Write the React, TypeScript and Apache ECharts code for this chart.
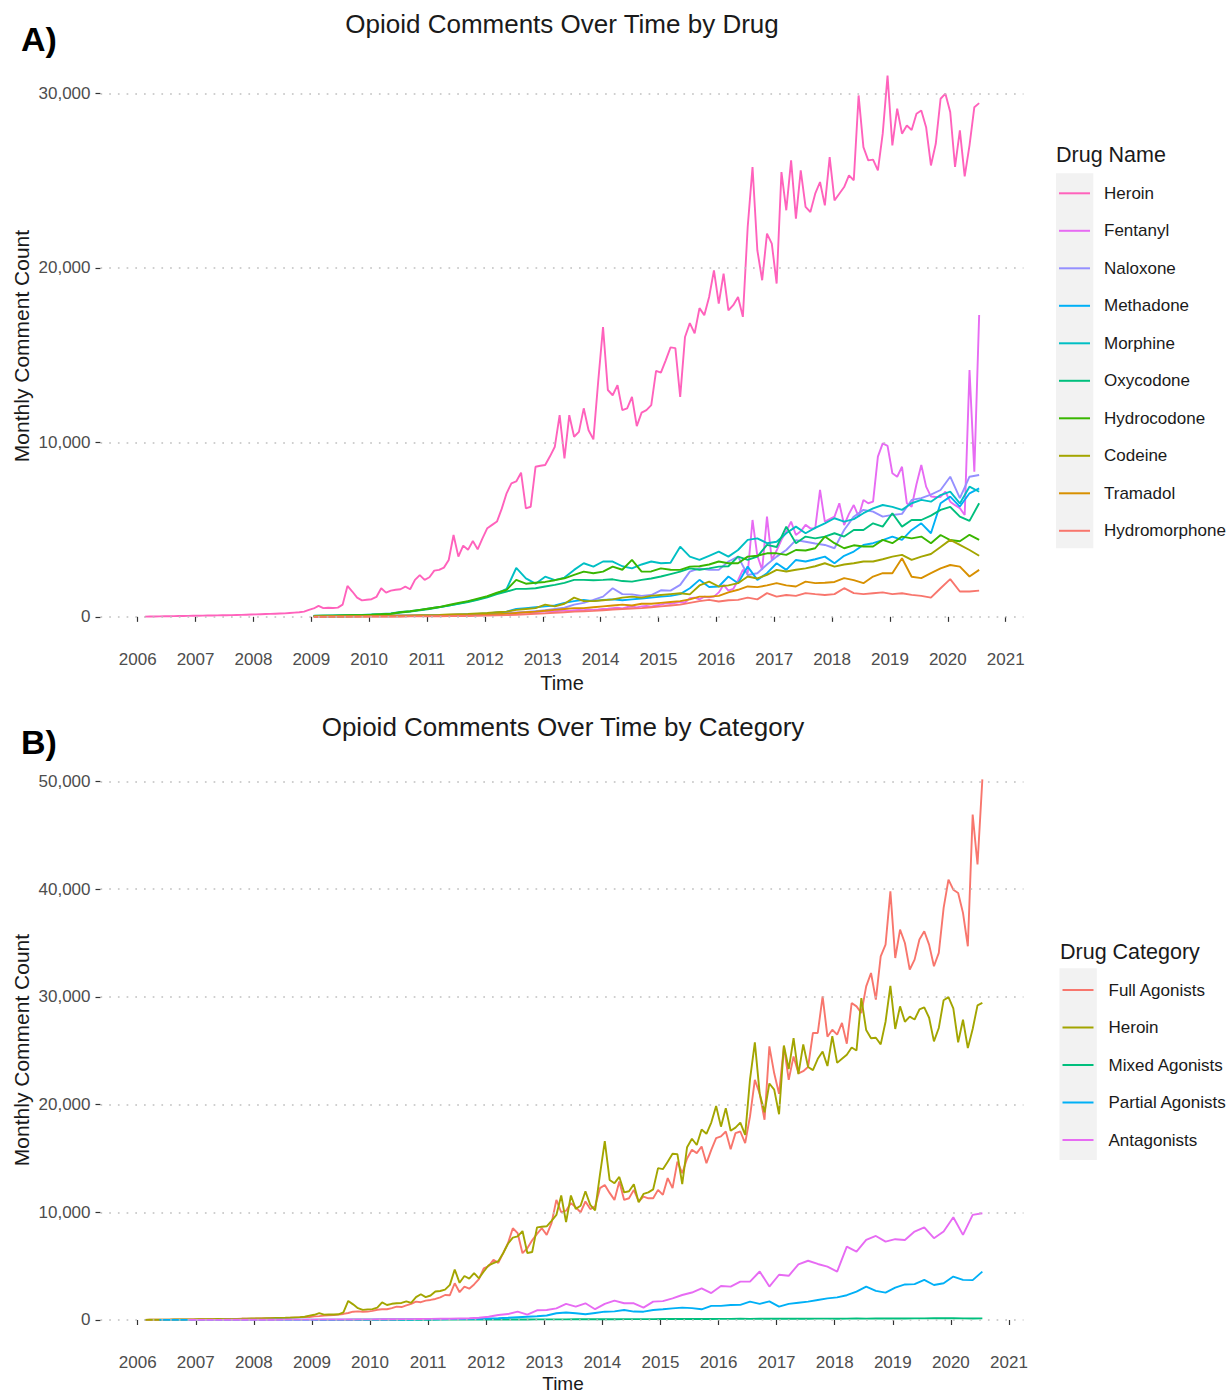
import React, { useEffect, useRef } from 'react';
import * as echarts from 'echarts';

// ---------------- tick labels ----------------
const YEAR_TICKS = [2006, 2007, 2008, 2009, 2010, 2011, 2012, 2013, 2014, 2015, 2016, 2017, 2018, 2019, 2020, 2021];
const A_Y_TICKS = [0, 10000, 20000, 30000];
const B_Y_TICKS = [0, 10000, 20000, 30000, 40000, 50000];

// ---------------- categories ----------------
const DRUG_NAMES = ['Heroin', 'Fentanyl', 'Naloxone', 'Methadone', 'Morphine', 'Oxycodone', 'Hydrocodone', 'Codeine', 'Tramadol', 'Hydromorphone'];
const DRUG_COLORS = ['#FF62BC', '#E76BF3', '#9590FF', '#00B0F6', '#00BFC4', '#00BF7D', '#39B600', '#A3A500', '#D89000', '#F8766D'];
const CATEGORY_NAMES = ['Full Agonists', 'Heroin', 'Mixed Agonists', 'Partial Agonists', 'Antagonists'];
const CATEGORY_COLORS = ['#F8766D', '#A3A500', '#00BF7D', '#00B0F6', '#E76BF3'];

// ---------------- series values ----------------
// Monthly counts, Feb 2006 .. Jul 2020 (month index 1..174, Jan 2006 = 0)
const HEROIN = [
  10, 15, 20, 25, 30, 35, 40, 45, 50, 55, 60,
  65, 70, 75, 80, 85, 90, 95, 100, 105, 110, 120, 130,
  140, 150, 160, 170, 180, 190, 200, 220, 240, 260, 300, 400,
  480, 630, 500, 520, 510, 530, 700, 1770, 1450, 1100, 940, 980,
  1010, 1140, 1640, 1390, 1500, 1550, 1580, 1730, 1580, 2120, 2390, 2120,
  2270, 2650, 2690, 2820, 3260, 4690, 3450, 4080, 3840, 4350, 3870, 4500,
  5080, 5270, 5460, 6200, 7080, 7650, 7760, 8260, 6220, 6310, 8600, 8660,
  8700, 9200, 9750, 11560, 9080, 11560, 10320, 10600, 11950, 10690, 10170, 13500,
  16600, 13000, 12700, 13280, 11850, 11950, 12610, 10930, 11700, 11850, 12130, 14100,
  14000, 14700, 15440, 15400, 12610, 16040, 16830, 16250, 17690, 17290, 18330, 19860,
  17950, 19670, 17570, 17860, 18330, 17190, 22340, 25780, 21010, 19290, 21960, 21390,
  19100, 25490, 23300, 26160, 22820, 25590, 23490, 23200, 24250, 24920, 23580, 26350,
  23870, 24250, 24630, 25300, 25020, 29880, 26920, 26160, 26200, 25590, 27690, 31020,
  27020, 29120, 27690, 28160, 27900, 28830, 29020, 28060, 25870, 27110, 29690, 29980,
  28930, 25780, 27880, 25240, 27020, 29210, 29440,
];

// Monthly, Jan 2009 .. Jul 2020 (month index 36..174)
const FENTANYL = [
  35, 40, 40, 40, 45, 45, 50, 50, 55, 55, 60, 60,
  60, 65, 65, 70, 70, 75, 75, 80, 80, 85, 90, 90,
  95, 100, 105, 110, 115, 120, 125, 130, 140, 150, 160, 170,
  180, 190, 200, 210, 220, 230, 240, 250, 260, 270, 280, 290,
  300, 310, 320, 340, 360, 340, 380, 400, 380, 420, 400, 420,
  450, 470, 500, 520, 480, 560, 590, 540, 600, 620, 580, 650,
  700, 770, 740, 800, 850, 820, 1070, 1100, 1000, 1150, 1120, 1160,
  1400, 1830, 1500, 1600, 2100, 2690, 2500, 5550, 3500, 2690, 5740, 3260,
  3800, 4410, 4900, 5460, 4690, 4900, 5270, 5070, 5070, 7270, 5460, 5600,
  5740, 6510, 5260, 5900, 6410, 5740, 6700, 6510, 6600, 9180, 9940, 9800,
  8230, 8030, 8600, 6510, 6310, 7600, 8700, 7460, 6900, 6870, 6870, 7170,
  6600, 6400, 6230, 5840, 14140, 8320, 17300,
];

// Every second month (Jan, Mar, May, Jul, Sep, Nov), Jan 2009 .. Jul 2020
const NALOXONE = [
  14, 16, 18, 20, 22, 25,
  28, 32, 36, 40, 45, 50,
  60, 70, 80, 90, 100, 120,
  140, 170, 200, 240, 280, 330,
  380, 450, 520, 700, 800, 970,
  1160, 1640, 1300, 1290, 1200, 1250,
  1520, 1500, 1830, 2590, 2780, 2690,
  2690, 3170, 3450, 2400, 2500, 3000,
  3450, 3830, 4400, 4300, 4200, 4120,
  3930, 4980, 5740, 6130, 6030, 5740,
  5840, 5900, 6700, 6800, 7000, 7270,
  8030, 6800, 8030, 8130,
];
const METHADONE = [
  30, 30, 35, 35, 40, 40,
  45, 50, 55, 60, 65, 70,
  80, 90, 100, 120, 140, 160,
  200, 250, 300, 450, 500, 550,
  600, 650, 800, 900, 970, 900,
  970, 1000, 950, 1000, 1050, 1100,
  1160, 1200, 1300, 1640, 2120, 1710,
  1740, 2310, 1930, 2880, 2120, 2500,
  3070, 2690, 3260, 3170, 3300, 3450,
  3070, 3500, 3740, 4120, 4220, 4400,
  4600, 4410, 4980, 5360, 4790, 6510,
  6890, 6320, 7080, 7360,
];
const MORPHINE = [
  60, 70, 80, 90, 100, 110,
  130, 160, 200, 280, 320, 400,
  480, 560, 650, 760, 880, 1000,
  1160, 1350, 1600, 2800, 2200, 1900,
  2300, 2100, 2250, 2690, 3070, 2880,
  3170, 3170, 2900, 2780, 3000, 3170,
  3070, 3100, 4020, 3450, 3260, 3500,
  3740, 3450, 3830, 4410, 4500, 4220,
  4300, 4790, 5170, 4790, 5100, 5360,
  5650, 5460, 5600, 5940, 6220, 6410,
  6300, 6130, 6510, 6700, 6600, 6980,
  7170, 6500, 7460, 7170,
];
const OXYCODONE = [
  50, 60, 70, 80, 90, 100,
  120, 140, 170, 250, 300, 380,
  450, 540, 640, 750, 850, 980,
  1120, 1300, 1450, 1600, 1600, 1640,
  1740, 1830, 1950, 2120, 2120, 2100,
  2120, 2150, 2050, 2020, 2120, 2200,
  2310, 2450, 2590, 2780, 2700, 2780,
  2880, 2900, 3450, 3260, 3450, 4120,
  4000, 5170, 4220, 4600, 4500, 4600,
  4790, 4600, 4980, 4980, 5360, 5170,
  5940, 5170, 5550, 5550, 5800, 6130,
  6300, 5740, 5500, 6510,
];
const HYDROCODONE = [
  50, 60, 70, 80, 90, 100,
  120, 150, 180, 260, 320, 400,
  480, 560, 680, 800, 900, 1040,
  1180, 1380, 1550, 2120, 1900, 1950,
  2000, 2100, 2210, 2400, 2590, 2500,
  2590, 2880, 2700, 3260, 2590, 2600,
  2780, 2700, 2690, 2880, 2900, 3000,
  3170, 3070, 3070, 3450, 3500, 3640,
  3640, 3550, 3830, 3800, 3930, 4600,
  4220, 3930, 4100, 4030, 4030, 4410,
  4220, 4600, 4500, 4600, 4220, 4690,
  4400, 4330, 4700, 4410,
];
const CODEINE = [
  25, 28, 32, 36, 40, 45,
  50, 55, 60, 70, 80, 90,
  100, 110, 130, 150, 170, 200,
  220, 260, 300, 400, 450, 500,
  700, 600, 750, 1100, 900, 900,
  950, 1000, 1100, 1160, 1100, 1200,
  1250, 1300, 1350, 1290, 1800, 2020,
  1740, 1800, 1930, 2310, 2200, 2400,
  2690, 2600, 2700, 2780, 2900, 3070,
  2880, 3000, 3070, 3170, 3170, 3300,
  3450, 3550, 3260, 3450, 3600, 4000,
  4410, 4120, 3830, 3500,
];
const TRAMADOL = [
  12, 14, 16, 18, 20, 22,
  25, 28, 32, 36, 40, 45,
  50, 60, 70, 80, 90, 100,
  120, 150, 180, 220, 260, 300,
  350, 400, 450, 500, 500, 550,
  600, 650, 700, 650, 750, 750,
  800, 850, 900, 1000, 1160, 1160,
  1200, 1400, 1550, 1740, 1700, 1800,
  1930, 1800, 1740, 2020, 1930, 1950,
  2000, 2220, 2100, 1930, 2310, 2500,
  2500, 3360, 2300, 2220, 2500, 2780,
  2970, 2880, 2310, 2690,
];
const HYDROMORPHONE = [
  8, 9, 10, 11, 12, 14,
  16, 18, 20, 22, 25, 28,
  30, 35, 40, 45, 50, 60,
  70, 85, 100, 120, 150, 180,
  200, 230, 260, 300, 320, 340,
  380, 420, 450, 480, 500, 550,
  600, 650, 700, 800, 900, 970,
  880, 950, 970, 1100, 1000, 1360,
  1160, 1250, 1200, 1360, 1300, 1250,
  1300, 1640, 1360, 1300, 1350, 1400,
  1300, 1350, 1260, 1200, 1100, 1640,
  2160, 1450, 1450, 1500,
];

// Panel B, monthly, Feb 2006 .. Jul 2020 (month index 1..174)
const FULL_AGONISTS = [
  10, 15, 20, 25, 30, 35, 40, 45, 50, 55, 60,
  65, 70, 75, 80, 85, 90, 95, 100, 105, 110, 115, 120,
  130, 140, 150, 160, 170, 180, 190, 200, 220, 240, 260, 280,
  330, 360, 400, 430, 460, 500, 560, 650, 770, 800, 760, 780,
  850, 950, 1000, 1000, 1100, 1240, 1200, 1350, 1500, 1700, 1650, 1800,
  1860, 1950, 2100, 2320, 2300, 3410, 2580, 3100, 2900, 3300, 3800, 4800,
  5000, 5580, 5300, 6200, 7130, 8520, 8060, 6200, 6660, 7400, 8000, 8520,
  7900, 8990, 11150, 10000, 10150, 10850, 10460, 10000, 11000, 10300, 10540, 12240,
  12540, 11800, 11150, 12860, 11150, 11300, 12080, 11000, 11460, 11300, 11300, 12080,
  11620, 13170, 12240, 14710, 13630, 15000, 15800, 15490, 16110, 14560, 15800, 16880,
  17050, 17500, 15860, 17350, 17500, 16420, 18900, 22300, 21000, 18590, 25400, 22900,
  21000, 25400, 22300, 24470, 22900, 23100, 23500, 26650, 26650, 30050, 26300, 26950,
  26500, 27580, 25650, 29430, 29120, 28500, 30980, 32220, 29740, 33770, 34850, 39800,
  33610, 36250, 35000, 32530, 33460, 35320, 36090, 34850, 32840, 34080, 38260, 40890,
  39950, 39650, 37800, 34700, 46930, 42290, 50190,
];
// Every second month, Jan 2009 .. Jul 2020
const MIXED_AGONISTS = [
  10, 10, 12, 12, 14, 14,
  15, 16, 18, 20, 22, 24,
  26, 28, 30, 32, 35, 38,
  40, 42, 45, 48, 50, 52,
  55, 58, 60, 62, 65, 68,
  70, 72, 75, 78, 80, 82,
  85, 88, 90, 95, 100, 95,
  100, 105, 110, 105, 110, 115,
  110, 115, 120, 118, 122, 125,
  120, 125, 130, 128, 135, 140,
  138, 142, 145, 150, 155, 160,
  170, 150, 140, 150,
];
// Every second month, May 2006 .. Jul 2020
const PARTIAL_AGONISTS = [
  5, 5, 5, 6,
  6, 7, 8, 9, 10, 10,
  12, 12, 14, 15, 16, 18,
  20, 22, 25, 28, 30, 32,
  35, 38, 40, 45, 50, 55,
  60, 70, 80, 90, 100, 120,
  140, 160, 200, 250, 300, 350,
  420, 620, 700, 620, 530, 650,
  770, 800, 930, 780, 770, 930,
  1000, 1080, 1150, 1100, 990, 1310,
  1310, 1390, 1400, 1700, 1490, 1730,
  1240, 1490, 1600, 1700, 1860, 2010,
  2100, 2300, 2630, 3100, 2700, 2540,
  3000, 3300, 3330, 3720, 3250, 3410,
  4030, 3720, 3700, 4490,
];
// Every second month, Nov 2006 .. Jul 2020
const ANTAGONISTS = [
  5,
  8, 10, 12, 14, 16, 18,
  20, 22, 25, 28, 30, 32,
  35, 38, 40, 45, 50, 55,
  60, 65, 70, 75, 80, 90,
  100, 110, 120, 140, 160, 200,
  300, 460, 550, 770, 500, 900,
  930, 1080, 1490, 1240, 1550, 1000,
  1490, 1800, 1550, 1550, 1150, 1700,
  1750, 2010, 2320, 2550, 2940, 2500,
  3160, 3100, 3560, 3560, 4500, 3100,
  4200, 4100, 5170, 5500, 5200, 4950,
  4490, 6810, 6340, 7430, 7800, 7280,
  7500, 7430, 8210, 8600, 7590, 8210,
  9540, 7900, 9760, 9910,
];

// ---------------- helpers ----------------
const FONT = '"Liberation Sans", Arial, Helvetica, sans-serif';

// month index k (Jan 2006 = 0) -> decimal year at mid-month
const toPoints = (startMonth: number, stepMonths: number, values: number[]) =>
  values.map((v, i) => [2006 + (startMonth + i * stepMonths + 0.5) / 12, v]);

const A_DATA = [
  { name: 'Heroin', start: 1, step: 1, values: HEROIN },
  { name: 'Fentanyl', start: 36, step: 1, values: FENTANYL },
  { name: 'Naloxone', start: 36, step: 2, values: NALOXONE },
  { name: 'Methadone', start: 36, step: 2, values: METHADONE },
  { name: 'Morphine', start: 36, step: 2, values: MORPHINE },
  { name: 'Oxycodone', start: 36, step: 2, values: OXYCODONE },
  { name: 'Hydrocodone', start: 36, step: 2, values: HYDROCODONE },
  { name: 'Codeine', start: 36, step: 2, values: CODEINE },
  { name: 'Tramadol', start: 36, step: 2, values: TRAMADOL },
  { name: 'Hydromorphone', start: 36, step: 2, values: HYDROMORPHONE },
];
const B_DATA = [
  { name: 'Full Agonists', start: 1, step: 1, values: FULL_AGONISTS },
  { name: 'Heroin', start: 1, step: 1, values: HEROIN },
  { name: 'Mixed Agonists', start: 36, step: 2, values: MIXED_AGONISTS },
  { name: 'Partial Agonists', start: 4, step: 2, values: PARTIAL_AGONISTS },
  { name: 'Antagonists', start: 10, step: 2, values: ANTAGONISTS },
];

const gridLineStyle = { color: '#c0c0c0', width: 1.7, type: [1.7, 7] as any };

function makeX(gridIndex: number, min: number, max: number) {
  return {
    type: 'value',
    gridIndex,
    min,
    max,
    axisLine: { show: false },
    axisTick: { show: true, length: 5, lineStyle: { color: '#333333', width: 1.2 }, customValues: YEAR_TICKS },
    axisLabel: {
      customValues: YEAR_TICKS,
      formatter: (v: number) => String(Math.round(v)),
      fontSize: 17,
      color: '#4d4d4d',
      fontFamily: FONT,
      margin: 7,
    },
    splitLine: { show: false },
  };
}

function makeY(gridIndex: number, min: number, max: number, ticks: number[]) {
  return {
    type: 'value',
    gridIndex,
    min,
    max,
    axisLine: { show: false },
    axisTick: { show: true, length: 5, lineStyle: { color: '#333333', width: 1.2 }, customValues: ticks },
    axisLabel: {
      customValues: ticks,
      formatter: (v: number) => Math.round(v).toLocaleString('en-US'),
      fontSize: 17,
      color: '#4d4d4d',
      fontFamily: FONT,
      margin: 10,
    },
    splitLine: { show: false },
  };
}

function makeSeries(defs: any[], colors: string[], axisIndex: number, gridTicks: number[]) {
  return defs.map((d, i) => ({
    type: 'line',
    name: d.name,
    xAxisIndex: axisIndex,
    yAxisIndex: axisIndex,
    data: toPoints(d.start, d.step, d.values),
    showSymbol: false,
    symbol: 'none',
    silent: true,
    lineStyle: { color: colors[i], width: 1.9 },
    itemStyle: { color: colors[i] },
    emphasis: { disabled: true },
    ...(i === 0
      ? {
          markLine: {
            silent: true,
            symbol: ['none', 'none'],
            label: { show: false },
            lineStyle: gridLineStyle,
            emphasis: { disabled: true },
            animation: false,
            data: gridTicks.map((v) => ({ yAxis: v })),
          },
        }
      : {}),
  }));
}

function makeLegend(names: string[], colors: string[], left: number, top: number, textPad: number) {
  return {
    orient: 'vertical',
    left,
    top,
    padding: 0,
    itemWidth: 31,
    itemHeight: 2,
    itemGap: 17.5,
    icon: 'rect',
    selectedMode: false,
    textStyle: { fontSize: 17, color: '#1a1a1a', fontFamily: FONT, lineHeight: 20, padding: [0, 0, 0, textPad] },
    data: names.map((n, i) => ({ name: n, itemStyle: { color: colors[i] }, lineStyle: { color: colors[i] } })),
  };
}

function txt(text: string, x: number, y: number, size: number, opts: any = {}) {
  return {
    type: 'text',
    x,
    y,
    rotation: opts.rotation || 0,
    silent: true,
    style: {
      text,
      fontSize: size,
      fontFamily: FONT,
      fontWeight: opts.weight || 'normal',
      fill: opts.fill || '#1a1a1a',
      align: opts.align || 'center',
      verticalAlign: 'middle',
      textAlign: opts.align || 'center',
      textVerticalAlign: 'middle',
    },
  };
}

const option: any = {
  animation: false,
  backgroundColor: '#ffffff',
  grid: [
    { left: 100.5, top: 48.5, width: 923, height: 595.4 },
    { left: 100.5, top: 752.4, width: 923, height: 594.6 },
  ],
  xAxis: [makeX(0, 2005.357, 2021.308), makeX(1, 2005.36, 2021.25)],
  yAxis: [makeY(0, -1551, 32571, A_Y_TICKS), makeY(1, -2509.5, 52699.5, B_Y_TICKS)],
  legend: [
    makeLegend(DRUG_NAMES, DRUG_COLORS, 1059, 183.3, 9),
    makeLegend(CATEGORY_NAMES, CATEGORY_COLORS, 1062.5, 980, 10),
  ],
  graphic: [
    { type: 'rect', z: -1, silent: true, shape: { x: 1056, y: 173.3, width: 37.3, height: 375 }, style: { fill: '#F2F2F2' } },
    { type: 'rect', z: -1, silent: true, shape: { x: 1059.5, y: 968.3, width: 37.3, height: 191.7 }, style: { fill: '#F2F2F2' } },
    txt('A)', 21, 39, 34, { weight: 'bold', align: 'left', fill: '#000000' }),
    txt('B)', 21, 742, 34, { weight: 'bold', align: 'left', fill: '#000000' }),
    txt('Opioid Comments Over Time by Drug', 562, 24, 26),
    txt('Opioid Comments Over Time by Category', 563, 727, 26),
    txt('Time', 562, 682.5, 20),
    txt('Time', 563, 1383, 19),
    txt('Monthly Comment Count', 21.5, 346, 21, { rotation: Math.PI / 2 }),
    txt('Monthly Comment Count', 21.5, 1050, 21, { rotation: Math.PI / 2 }),
    txt('Drug Name', 1056, 155, 21.5, { align: 'left' }),
    txt('Drug Category', 1060, 952, 21.5, { align: 'left' }),
  ],
  series: [
    ...makeSeries(A_DATA, DRUG_COLORS, 0, A_Y_TICKS),
    ...makeSeries(B_DATA, CATEGORY_COLORS, 1, B_Y_TICKS),
  ],
};

export default function App() {
  const ref = useRef<HTMLDivElement>(null);
  useEffect(() => {
    if (!ref.current) return;
    const chart = echarts.init(ref.current, null, { renderer: 'svg', width: 1228, height: 1395 });
    chart.setOption(option);
    return () => chart.dispose();
  }, []);
  return (
    <div
      ref={ref}
      style={{ position: 'absolute', left: 0, top: 0, width: 1228, height: 1395, background: '#ffffff' }}
    />
  );
}
